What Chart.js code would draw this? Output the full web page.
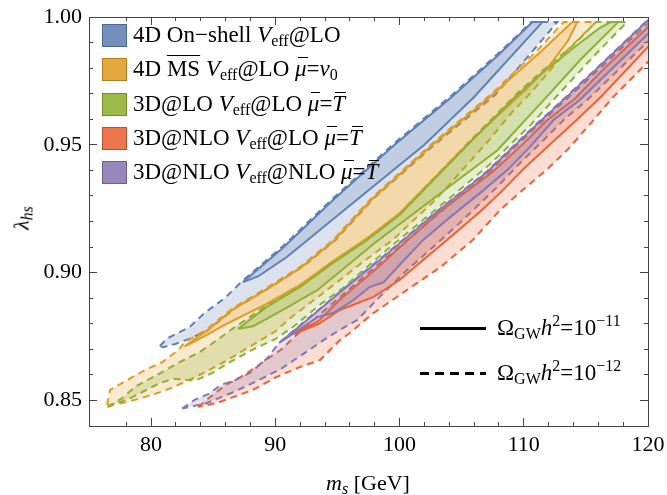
<!DOCTYPE html>
<html>
<head>
<meta charset="utf-8">
<script src="https://cdn.jsdelivr.net/npm/chart.js@4.4.1/dist/chart.umd.min.js"></script>
<style>
  body { margin: 0; background: #fff; }
  #wrap { position: relative; width: 667px; height: 495px; overflow: hidden;
          font-family: "Liberation Serif", "Times New Roman", serif; color: #000; }
  #chart { position: absolute; left: 0; top: 0; }
  .txt { position: absolute; font-size: 22px; line-height: 23px; white-space: nowrap; }
  .big { font-size: 23px; }
  .sw { position: absolute; left: 102px; width: 23px; height: 21px; border: 1px solid; }
  sub { font-size: 16px; vertical-align: -4px; line-height: 0; }
  sup { font-size: 16px; vertical-align: 9px; line-height: 0; }
  .ov { text-decoration: overline; text-decoration-thickness: 1px; }
  .ob { position: relative; }
  .ob::before { content: ''; position: absolute; left: 3px; right: -1px; top: 1px; border-top: 1px solid #000; }
  .key { position: absolute; left: 420px; width: 66px; height: 2.5px; }
</style>
</head>
<body>
<div id="wrap">
  <canvas id="chart" width="667" height="495"></canvas>
  <div class="txt" style="left:21px; top:218px; transform: translate(-50%,-50%) rotate(-90deg); font-style: italic;">λ<sub>hs</sub></div>
  <div class="txt" style="left:368px; top:471px; transform: translateX(-50%);"><i>m</i><sub><i>s</i></sub> [GeV]</div>
  <div class="key" style="top:327px; background:#000;"></div>
  <div class="key" style="top:372px; background: repeating-linear-gradient(90deg, #000 0 9px, transparent 9px 15px);"></div>
  <div class="txt big" style="left:497px; top:316px;">Ω<sub>GW</sub><i>h</i><sup>2</sup>=10<sup>−11</sup></div>
  <div class="txt big" style="left:497px; top:361px;">Ω<sub>GW</sub><i>h</i><sup>2</sup>=10<sup>−12</sup></div>
</div>
<script>
// axis ranges and ticks
const xRange = { min: 75, max: 120 };
const yRange = { min: 0.84, max: 1.0 };
const xMajorStep = 10, xMinorStep = 2;
const yMajorStep = 0.05, yMinorStep = 0.01;

// contours in (m_s [GeV], lambda_hs)
// each one: upper edge left -> right, then lower edge back towards the tip
// "12" = Omega h^2 = 1e-12 (dashed), "11" = 1e-11 (solid)
const blue12 = [
  [80.7,0.8713],[81.35,0.8744],[83.1,0.8787],[84.3,0.8842],[85.95,0.8901],[87.4,0.8970],[90.6,0.9103],
  [94.65,0.9291],[99.6,0.9507],[104.2,0.9694],[108.0,0.9860],[110.6,0.9980],
  [112.7,0.9980],[107.7,0.9695],[103.0,0.9508],[97.95,0.9292],[94.85,0.9128],[92.2,0.9023],[89.5,0.8940],
  [86.8,0.8862],[84.5,0.8772],[83.0,0.8740],[82.0,0.8722],[81.0,0.8708]
];
const blue11 = [
  [87.4,0.8963],[90.6,0.9096],[94.65,0.9284],[99.6,0.9500],[104.2,0.9687],[108.0,0.9853],[110.7,0.9980],
  [111.5,0.9980],[106.0,0.9687],[102.0,0.9500],[95.8,0.9255],[90.9,0.9060],[88.6,0.8985]
];
const orange12 = [
  [76.45,0.8482],[76.7,0.8541],[78.1,0.8580],[79.5,0.8619],[80.9,0.8650],[82.2,0.8697],[82.7,0.8728],
  [84.3,0.8772],[86.6,0.8862],[89.3,0.8940],[92.0,0.9023],[94.65,0.9128],[97.75,0.9292],[102.7,0.9508],
  [107.3,0.9695],[111.0,0.9865],[113.2,0.9980],
  [115.8,0.9980],[113.5,0.9870],[110.5,0.9700],[109.1,0.9630],[107.0,0.9507],[103.0,0.9290],[99.5,0.9130],
  [97.0,0.9040],[94.65,0.8950],[91.3,0.8826],[90.0,0.8770],[88.1,0.8715],[86.2,0.8660],[84.9,0.8625],
  [83.5,0.8590],[81.7,0.8550],[80.3,0.8525],[78.9,0.8505],[77.7,0.8490]
];
const orange11 = [
  [82.7,0.8712],[84.3,0.8766],[86.6,0.8856],[89.3,0.8934],[92.0,0.9017],[94.65,0.9122],[97.75,0.9286],
  [102.7,0.9502],[107.3,0.9689],[111.5,0.9870],[113.9,0.9980],
  [114.3,0.9980],[113.6,0.9910],[112.1,0.9812],[110.3,0.9722],[108.7,0.9650],[105.7,0.9513],[100.0,0.9232],
  [97.4,0.9135],[94.65,0.9045],[92.0,0.8952],[89.3,0.8878],[87.0,0.8822],[85.7,0.8790],[84.3,0.8752],[83.0,0.8718]
];
const green12 = [
  [76.5,0.8474],[77.7,0.8510],[78.7,0.8553],[80.6,0.8603],[82.3,0.8650],[83.9,0.8689],[85.1,0.8729],
  [86.6,0.8782],[89.3,0.8872],[92.0,0.8950],[94.65,0.9044],[97.4,0.9134],[100.0,0.9231],[105.7,0.9517],
  [109.3,0.9693],[111.3,0.9782],[114.0,0.9890],[115.8,0.9980],
  [118.3,0.9980],[115.5,0.9840],[112.6,0.9687],[110.5,0.9575],[107.3,0.9425],[104.0,0.9290],[101.0,0.9170],
  [99.0,0.9090],[97.1,0.9010],[95.45,0.8940],[93.6,0.8875],[91.5,0.8790],[90.0,0.8740],[88.1,0.8697],
  [86.2,0.8646],[84.9,0.8607],[83.5,0.8577],[81.8,0.8585],[80.7,0.8568],[78.5,0.8513]
];
const green11 = [
  [87.0,0.8780],[89.3,0.8866],[92.0,0.8944],[94.65,0.9038],[97.4,0.9128],[100.0,0.9225],[105.7,0.9511],
  [109.3,0.9687],[111.3,0.9773],[114.0,0.9879],[116.1,0.9957],[117.0,0.9980],
  [117.6,0.9980],[114.5,0.9830],[111.6,0.9675],[107.9,0.9480],[103.0,0.9300],[98.0,0.9116],[93.4,0.8932],
  [90.6,0.8854],[88.2,0.8790]
];
const purple12 = [
  [82.5,0.8468],[83.5,0.8502],[84.6,0.8525],[85.7,0.8562],[86.8,0.8580],[88.1,0.8612],[89.4,0.8668],
  [90.3,0.8725],[92.0,0.8795],[95.2,0.8925],[99.2,0.9085],[103.0,0.9240],[107.0,0.9395],[111.1,0.9585],
  [115.0,0.9760],[120.0,0.9990],[121.0,1.0035],
  [121.0,0.9950],[120.0,0.9905],[115.1,0.9675],[113.2,0.9597],[111.6,0.9519],[109.7,0.9429],[107.85,0.9335],
  [105.1,0.9206],[102.7,0.9100],[100.6,0.9010],[98.7,0.8920],[96.6,0.8815],[95.2,0.8776],[94.0,0.8740],
  [92.5,0.8690],[90.5,0.8625],[88.5,0.8575],[86.5,0.8530],[84.5,0.8490]
];
const purple11 = [
  [90.3,0.8725],[92.0,0.8792],[95.2,0.8922],[99.2,0.9082],[103.0,0.9237],[107.0,0.9392],[111.1,0.9582],
  [115.0,0.9757],[120.0,0.9987],[121.0,1.0030],
  [121.0,0.9980],[120.0,0.9934],[114.5,0.9675],[112.4,0.9597],[110.5,0.9492],[108.7,0.9402],[106.5,0.9312],
  [104.1,0.9218],[101.9,0.9128],[100.0,0.9030],[98.7,0.8962],[97.6,0.8944],[96.3,0.8893],[94.65,0.8842],
  [93.4,0.8826],[92.0,0.8780]
];
const red12 = [
  [83.8,0.8474],[84.8,0.8515],[86.0,0.8560],[87.5,0.8600],[89.0,0.8650],[90.5,0.8700],[92.0,0.8770],
  [95.2,0.8905],[99.2,0.9070],[103.0,0.9225],[107.0,0.9385],[111.1,0.9575],[115.0,0.9748],[120.0,0.9975],[121.0,1.0020],
  [121.0,0.9870],[120.0,0.9824],[117.2,0.9687],[115.4,0.9585],[113.6,0.9485],[111.9,0.9405],[109.9,0.9323],
  [108.1,0.9245],[105.9,0.9128],[103.3,0.9022],[100.6,0.8932],[97.9,0.8842],[96.0,0.8764],[95.2,0.8736],
  [93.6,0.8658],[92.0,0.8631],[90.1,0.8592],[88.2,0.8541],[86.6,0.8513],[85.3,0.8490]
];
const red11 = [
  [91.5,0.8760],[93.5,0.8812],[95.2,0.8895],[97.9,0.9005],[100.6,0.9125],[103.3,0.9240],[107.5,0.9395],
  [109.7,0.9492],[111.9,0.9597],[114.1,0.9680],[116.5,0.9800],[120.0,0.9960],[121.0,1.0005],
  [121.0,0.9935],[120.0,0.9883],[116.2,0.9687],[114.0,0.9585],[111.9,0.9492],[109.9,0.9402],[108.1,0.9312],
  [106.5,0.9239],[104.1,0.9139],[101.9,0.9049],[100.0,0.8971],[97.9,0.8905],[95.2,0.8854],[93.5,0.8800]
];

const palette = {
  blue: [94, 129, 181],
  orange: [225, 156, 36],
  green: [143, 176, 50],
  red: [235, 98, 53],
  purple: [135, 120, 179]
};

const legendRows = [
  ['blue', '4D On\u2212shell <i>V</i><sub>eff</sub>@LO'],
  ['orange', '4D <span class="ov">MS</span> <i>V</i><sub>eff</sub>@LO <i class="ob">μ</i>=<i>v</i><sub>0</sub>'],
  ['green', '3D@LO <i>V</i><sub>eff</sub>@LO <i class="ob">μ</i>=<i class="ob">T</i>'],
  ['red', '3D@NLO <i>V</i><sub>eff</sub>@LO <i class="ob">μ</i>=<i class="ob">T</i>'],
  ['purple', '3D@NLO <i>V</i><sub>eff</sub>@NLO <i class="ob">μ</i>=<i class="ob">T</i>']
];

const wrap = document.getElementById('wrap');
legendRows.forEach(function(row, i) {
  const c = palette[row[0]];
  const top = 24 + i * 34.3;
  const sw = document.createElement('div');
  sw.className = 'sw';
  sw.style.top = top + 'px';
  sw.style.background = 'rgba(' + c + ',0.88)';
  sw.style.borderColor = 'rgb(' + c.map(v => Math.round(v * 0.8)) + ')';
  wrap.appendChild(sw);
  const lab = document.createElement('div');
  lab.className = 'txt big';
  lab.style.left = '133px';
  lab.style.top = (top - 1) + 'px';
  lab.innerHTML = row[1];
  wrap.appendChild(lab);
});

// one closed outline per region, the fill is the inside of the shape
function region(points, rgb, dashed) {
  const data = points.concat([points[0]]).map(p => ({ x: p[0], y: p[1] }));
  return {
    data: data,
    borderColor: 'rgb(' + rgb + ')',
    backgroundColor: 'rgba(' + rgb + ',0.22)',
    borderWidth: 2,
    borderDash: dashed ? [7, 5] : [],
    fill: 'shape',
    pointRadius: 0,
    tension: 0
  };
}

// first dataset ends up on top
const datasets = [
  region(purple11, palette.purple, false),
  region(red11, palette.red, false),
  region(purple12, palette.purple, true),
  region(red12, palette.red, true),
  region(green11, palette.green, false),
  region(orange11, palette.orange, false),
  region(blue11, palette.blue, false),
  region(green12, palette.green, true),
  region(orange12, palette.orange, true),
  region(blue12, palette.blue, true)
];

const frameColor = '#444';
const tickFont = { family: "'Liberation Serif', 'Times New Roman', serif", size: 22 };

function isMultiple(v, step) {
  const r = v / step;
  return Math.abs(r - Math.round(r)) < 1e-6;
}

// the tick labels should not push the plot area inwards
function noPad(s) {
  s.paddingLeft = 0; s.paddingRight = 0; s.paddingTop = 0; s.paddingBottom = 0;
}

// extra unlabeled axes: only draw (inward) tick marks and the frame
function edgeAxis(position, range, step, tickLen, weight, showBorder) {
  return {
    type: 'linear', position: position, weight: weight, min: range.min, max: range.max,
    ticks: { stepSize: step, display: false },
    grid: { drawOnChartArea: false, tickLength: tickLen, tickColor: frameColor, tickWidth: 1 },
    border: { display: showBorder, color: frameColor, width: 1 },
    afterFit: function(s) {
      if (s.isHorizontal()) s.height = 0; else s.width = 0;
      noPad(s);
    }
  };
}

new Chart(document.getElementById('chart').getContext('2d'), {
  type: 'line',
  data: { datasets: datasets },
  options: {
    responsive: false,
    animation: false,
    events: [],
    layout: { padding: { left: 0, right: 19, top: 17, bottom: 0 } },
    plugins: { legend: { display: false }, tooltip: { enabled: false } },
    scales: {
      x: {
        type: 'linear', position: 'bottom', weight: 0, min: xRange.min, max: xRange.max,
        ticks: {
          stepSize: xMajorStep, padding: 14, color: '#000', font: tickFont, maxRotation: 0, autoSkip: false,
          callback: v => (isMultiple(v, xMajorStep) ? String(v) : '')
        },
        grid: { drawOnChartArea: false, tickLength: -8, tickColor: frameColor, tickWidth: 1 },
        border: { color: frameColor, width: 1 },
        afterFit: function(s) { s.height = 69; noPad(s); }
      },
      xm: edgeAxis('bottom', xRange, xMinorStep, -4, -1, false),
      xt: edgeAxis('top', xRange, xMajorStep, -8, 0, true),
      xtm: edgeAxis('top', xRange, xMinorStep, -4, -1, false),
      y: {
        type: 'linear', position: 'left', weight: 0, min: yRange.min, max: yRange.max,
        ticks: {
          stepSize: yMajorStep, padding: 15, color: '#000', font: tickFont, autoSkip: false,
          callback: v => (isMultiple(v, yMajorStep) ? v.toFixed(2) : '')
        },
        grid: { drawOnChartArea: false, tickLength: -8, tickColor: frameColor, tickWidth: 1 },
        border: { color: frameColor, width: 1 },
        afterFit: function(s) { s.width = 89; noPad(s); }
      },
      ym: edgeAxis('left', yRange, yMinorStep, -4, -1, false),
      yr: edgeAxis('right', yRange, yMajorStep, -8, 0, true),
      yrm: edgeAxis('right', yRange, yMinorStep, -4, -1, false)
    }
  }
});
</script>
</body>
</html>
